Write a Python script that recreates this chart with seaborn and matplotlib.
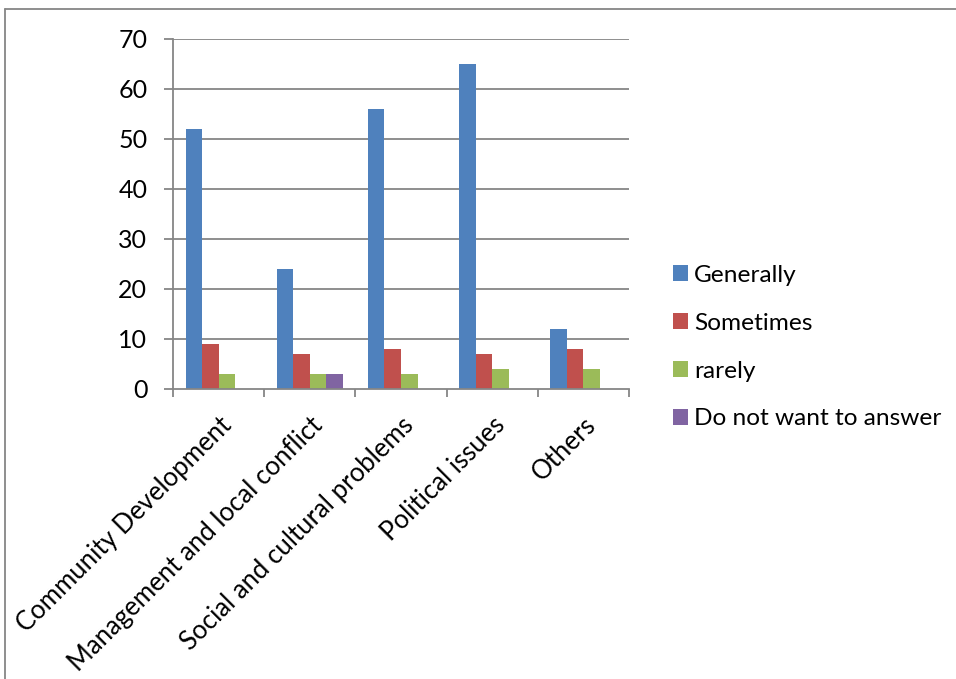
import matplotlib
matplotlib.use("Agg")
import matplotlib.pyplot as plt
import seaborn as sns
import pandas as pd
from matplotlib.lines import Line2D
from matplotlib.patches import Patch

categories = ["Community Development", "Management and local conflict",
              "Social and cultural problems", "Political issues", "Others"]
series = ["Generally", "Sometimes", "rarely", "Do not want to answer"]
generally = [52, 24, 56, 65, 12]
sometimes = [9, 7, 8, 7, 8]
rarely = [3, 3, 3, 4, 4]
no_answer = [0, 3, 0, 0, 0]
colors = ["#4F81BD", "#C0504D", "#9BBB59", "#8064A2"]
y_ticks = [0, 10, 20, 30, 40, 50, 60, 70]

rows = []
for s, vals in zip(series, [generally, sometimes, rarely, no_answer]):
    for c, v in zip(categories, vals):
        rows.append({"category": c, "series": s, "value": v})
df = pd.DataFrame(rows)

sns.set_theme(style="white")
plt.rcParams["font.family"] = ["Lato", "DejaVu Sans"]
plt.rcParams["text.color"] = "black"
FS = 18

W, H = 956, 679
fig = plt.figure(figsize=(W / 100, H / 100), dpi=100)
ax = fig.add_axes([173 / W, 1 - 389 / H, (629 - 173) / W, (389 - 39) / H])

sns.barplot(data=df, x="category", y="value", hue="series", order=categories,
            hue_order=series, palette=colors, width=0.724, gap=0,
            saturation=1, legend=False, ax=ax, linewidth=0)

grid = "#868686"
ax.set_ylim(0, 70)
ax.set_xlim(-0.5, len(categories) - 0.5)
ax.set_yticks(y_ticks)
ax.set_yticklabels([str(t) for t in y_ticks], fontsize=FS, color="black")
for t in y_ticks[1:]:
    ax.axhline(t, color=grid, lw=1.3, zorder=0)
for side in ["top", "right"]:
    ax.spines[side].set_visible(False)
for side in ["left", "bottom"]:
    ax.spines[side].set_color(grid)
    ax.spines[side].set_linewidth(1.3)
ax.tick_params(axis="y", which="major", length=6.5, width=1.3, color=grid,
               direction="out", left=True, pad=12)

# category ticks at group boundaries, labels at centres
ax.set_xticks([i - 0.5 for i in range(len(categories) + 1)], minor=True)
ax.tick_params(axis="x", which="minor", length=6, width=1.3, color=grid,
               direction="out", bottom=True)
ax.set_xticks(range(len(categories)))
ax.tick_params(axis="x", which="major", length=0, pad=17)
ax.set_xticklabels(categories, rotation=45, ha="right",
                   rotation_mode="anchor", fontsize=18.5, color="black")
ax.set_xlabel("")
ax.set_ylabel("")

handles = [Patch(facecolor=c, edgecolor="none") for c in colors]
fig.legend(handles, series, loc="upper left",
           bbox_to_anchor=(663 / W, 1 - 255 / H), frameon=False,
           fontsize=17.6, handlelength=0.62, handleheight=0.62,
           handletextpad=0.26, labelspacing=1.1, borderaxespad=0)

# outer chart frame
fig.add_artist(Line2D([5 / W, 1], [1 - 9 / H, 1 - 9 / H], color=grid, lw=1.3))
fig.add_artist(Line2D([5 / W, 5 / W], [0, 1 - 9 / H], color=grid, lw=1.3))

fig.savefig("out.png", dpi=100)
